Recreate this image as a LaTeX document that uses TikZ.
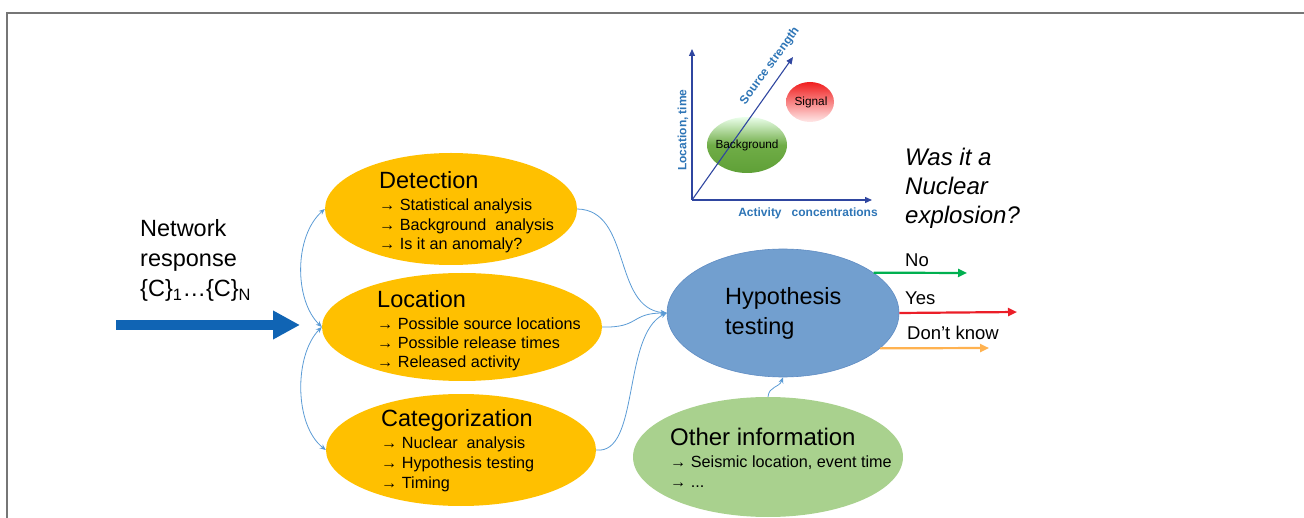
\documentclass[tikz,border=0pt]{standalone}
\usepackage{fontspec}
\setmainfont{Liberation Sans}
\usetikzlibrary{shapes.geometric,arrows.meta}
\definecolor{yel}{RGB}{255,192,0}
\definecolor{hypblue}{RGB}{114,159,207}
\definecolor{hypedge}{RGB}{95,140,195}
\definecolor{othgreen}{RGB}{169,209,142}
\definecolor{lblue}{RGB}{91,155,213}
\definecolor{bigblue}{RGB}{16,100,180}
\definecolor{axisblue}{RGB}{47,70,160}
\definecolor{labblue}{RGB}{46,117,182}
\definecolor{nogreen}{RGB}{0,176,80}
\definecolor{yesred}{RGB}{235,30,40}
\definecolor{dkorange}{RGB}{255,178,80}
\definecolor{frame}{RGB}{118,118,118}
\begin{document}
\begin{tikzpicture}[x=1pt,y=-1pt,
  ell/.style={ellipse, inner sep=0pt},
  ttl/.style={anchor=base west, inner sep=0pt, font=\fontsize{23.5}{28}\selectfont},
  itm/.style={anchor=base west, inner sep=0pt, font=\fontsize{16.2}{20}\selectfont},
  big/.style={anchor=base west, inner sep=0pt, font=\fontsize{23.5}{28}\selectfont},
  ans/.style={anchor=base west, inner sep=0pt, font=\fontsize{18.5}{22}\selectfont},
  conn/.style={draw=lblue, line width=0.8pt, -{Stealth[length=6pt,width=5pt]}},
  connb/.style={draw=lblue, line width=0.8pt, {Stealth[length=6pt,width=5pt]}-{Stealth[length=6pt,width=5pt]}},
  outarr/.style={line width=2.2pt, -{Triangle[length=9pt,width=8pt]}},
  axis/.style={draw=axisblue, line width=1.3pt, -{Triangle[length=7pt,width=6pt]}},
  axlab/.style={inner sep=0pt, text=labblue, font=\bfseries\fontsize{12}{14}\selectfont}
]
\useasboundingbox (0,0) rectangle (1304,518);
% frame
\draw[frame, line width=1.6pt] (7,518) -- (7,13) -- (1304,13);

% inset graph
\node[ell, minimum width=80pt, minimum height=56pt, top color=green!8!white, bottom color={rgb,255:red,95;green,160;blue,55}, middle color={rgb,255:red,112;green,173;blue,71}] (bg) at (747,145) {};
\node[ell, minimum width=48pt, minimum height=40pt, top color={rgb,255:red,240;green,30;blue,30}, bottom color={rgb,255:red,255;green,232;blue,232}] (sig) at (810,102) {};
\coordinate (o) at (692,200);
\coordinate (ytop) at (692,49);
\coordinate (xend) at (872,200);
\coordinate (dend) at (793,57);
\draw[axis] (o) -- (ytop);
\draw[axis] (o) -- (xend);
\draw[axis, line width=1.1pt] (o) -- (dend);
\node[inner sep=0pt, font=\fontsize{11.8}{14}\selectfont] (bgt) at (747,145) {Background};
\node[inner sep=0pt, font=\fontsize{11.8}{14}\selectfont] (sigt) at (811,102) {Signal};
\node[axlab, rotate=90] (ylab) at (683,130) {Location, time};
\node[axlab] (xlab) at (808,213) {Activity\ \ \ concentrations};
\node[axlab, rotate=54] (dlab) at (770,66) {Source strength};

% question
\node[anchor=base west, inner sep=0pt, font=\itshape\fontsize{24}{29.5}\selectfont] (q1) at (905,166) {Was it a};
\node[anchor=base west, inner sep=0pt, font=\itshape\fontsize{24}{29.5}\selectfont] (q2) at (905,195) {Nuclear};
\node[anchor=base west, inner sep=0pt, font=\itshape\fontsize{24}{29.5}\selectfont] (q3) at (905,224) {explosion?};

% network response
\node[big] (n1) at (140,237) {Network};
\node[big] (n2) at (140,267) {response};
\node[big] (n3) at (140,297) {\{C\}\textsubscript{1}…\{C\}\textsubscript{N}};
\coordinate (bigs) at (116,325);
\coordinate (bige) at (300,325);
\draw[bigblue, line width=10pt, -{Triangle[length=27pt,width=27pt]}] (bigs) -- (bige);

% ellipses
\node[ell, fill=yel, minimum width=252pt, minimum height=112pt] (det) at (451,209) {};
\node[ell, fill=yel, minimum width=280pt, minimum height=108pt] (loc) at (462,327) {};
\node[ell, fill=yel, minimum width=270pt, minimum height=112pt] (cat) at (461,450) {};
\node[ell, fill=hypblue, draw=hypedge, line width=0.6pt, minimum width=232pt, minimum height=128pt] (hyp) at (783,313) {};
\node[ell, fill=othgreen, minimum width=270pt, minimum height=120pt] (oth) at (768,457) {};

% detection text
\node[ttl] (dt) at (379,189) {Detection};
\node[itm] (d1) at (379,211) {→ Statistical analysis};
\node[itm] (d2) at (379,231) {→ Background\ \ analysis};
\node[itm] (d3) at (379,250) {→ Is it an anomaly?};
% location text
\node[ttl] (lt) at (377,308) {Location};
\node[itm] (l1) at (377,330) {→ Possible source locations};
\node[itm] (l2) at (377,349) {→ Possible release times};
\node[itm] (l3) at (377,368) {→ Released activity};
% categorization text
\node[ttl] (ct) at (381,427) {Categorization};
\node[itm] (c1) at (381,448) {→ Nuclear\ \ analysis};
\node[itm] (c2) at (381,468) {→ Hypothesis testing};
\node[itm] (c3) at (381,488) {→ Timing};
% hypothesis text
\node[anchor=base west, inner sep=0pt, font=\fontsize{23.5}{28}\selectfont] (h1) at (725,305) {Hypothesis};
\node[anchor=base west, inner sep=0pt, font=\fontsize{23.5}{28}\selectfont] (h2) at (725,335) {testing};
% other info text
\node[anchor=base west, inner sep=0pt, font=\fontsize{24}{28}\selectfont] (ot) at (670,446) {Other information};
\node[itm] (o1) at (670,467) {→ Seismic location, event time};
\node[itm] (o2) at (670,487) {→ ...};

% left connectors
\draw[connb] (loc.west) .. controls (294,300) and (294,236) .. (det.west);
\draw[connb] (loc.west) .. controls (294,355) and (294,425) .. (cat.west);
% right connectors
\draw[conn] (det.east) .. controls (632,210) and (612,308) .. (hyp.west);
\draw[conn] (loc.east) .. controls (640,328) and (630,313) .. (hyp.west);
\draw[conn] (cat.east) .. controls (640,455) and (622,335) .. (hyp.west);
\draw[conn] (oth.north) .. controls (769,386) and (779,388) .. (hyp.south);

% outputs
\coordinate (noE) at (967,273);
\coordinate (yesE) at (1017,312);
\coordinate (dkE) at (989,348);
\draw[outarr, nogreen] (hyp.24.5) -- (noE);
\draw[outarr, yesred] (hyp.east) -- (yesE);
\draw[outarr, dkorange] (hyp.-20.5) -- (dkE);
\node[ans] (no) at (905,267) {No};
\node[ans] (yes) at (905,305) {Yes};
\node[ans] (dk) at (907,340) {Don’t know};
\end{tikzpicture}
\end{document}
